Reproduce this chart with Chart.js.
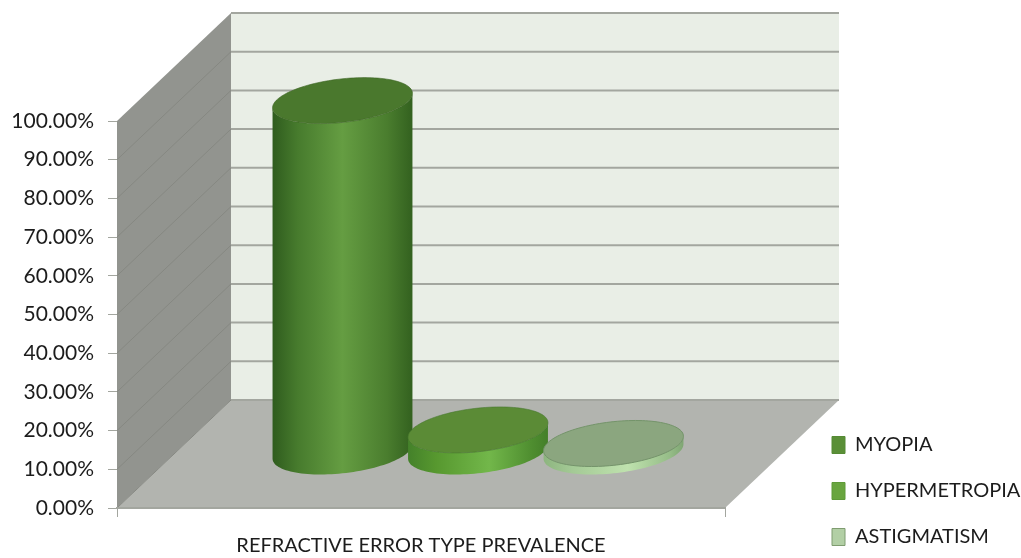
<!DOCTYPE html>
<html>
<head>
<meta charset="utf-8">
<title>Refractive error type prevalence</title>
<script src="https://cdn.jsdelivr.net/npm/chart.js@4"></script>
<style>
  html, body { margin: 0; padding: 0; background: #fff; }
  canvas { display: block; }
</style>
</head>
<body>
<canvas id="myChart" width="1021" height="558"></canvas>
<script>
const categories = ['REFRACTIVE ERROR TYPE PREVALENCE'];
const seriesNames = ['MYOPIA', 'HYPERMETROPIA', 'ASTIGMATISM'];
const myopia = [90.8];
const hypermetropia = [5.7];
const astigmatism = [2.2];

const FONT = 'Lato';
const TEXT = '#1c1c1c';

// oblique depth of the 3d box, in pixels
const DEPTH_X = 114;
const DEPTH_Y = 108;

// look of each cylinder: side gradient stops, cap colour, legend colour
const looks = [
  {
    legend: '#5a8f37',
    side: [[0, '#2f5c1e'], [0.18, '#477b2d'], [0.5, '#659d42'], [0.82, '#4a7d2e'], [1, '#33611f']],
    cap: '#4a782d',
    edge: 'rgba(60,100,35,0.6)'
  },
  {
    legend: '#69a53f',
    side: [[0, '#44812a'], [0.2, '#57982f'], [0.58, '#72b74a'], [0.88, '#4f8e30'], [1, '#447f29']],
    cap: '#5b8b36',
    edge: 'rgba(70,120,45,0.6)'
  },
  {
    legend: '#b2cfa5',
    side: [[0, '#8db57f'], [0.2, '#a3c995'], [0.6, '#bfe2ae'], [0.9, '#96bd88'], [1, '#7fa673']],
    cap: '#8ba67f',
    edge: '#74946a'
  }
];

function poly(ctx, pts) {
  ctx.beginPath();
  pts.forEach((p, i) => i ? ctx.lineTo(p[0], p[1]) : ctx.moveTo(p[0], p[1]));
  ctx.closePath();
}

// walls, floor and their grid lines, all hung on the chart's scales
const box3d = {
  id: 'box3d',
  beforeDraw(chart) {
    const ctx = chart.ctx;
    const y = chart.scales.y;
    const left = chart.chartArea.left;
    const right = chart.chartArea.right;
    const top = y.getPixelForValue(100);
    const bottom = y.getPixelForValue(0);

    ctx.save();
    // left wall
    ctx.fillStyle = '#92948f';
    poly(ctx, [[left, top], [left + DEPTH_X, top - DEPTH_Y], [left + DEPTH_X, bottom - DEPTH_Y], [left, bottom]]);
    ctx.fill();
    // back wall
    ctx.fillStyle = '#e9eee6';
    ctx.fillRect(left + DEPTH_X, top - DEPTH_Y, right - left, bottom - top);
    // floor
    ctx.fillStyle = '#b2b4af';
    poly(ctx, [[left, bottom], [right, bottom], [right + DEPTH_X, bottom - DEPTH_Y], [left + DEPTH_X, bottom - DEPTH_Y]]);
    ctx.fill();

    y.ticks.forEach((t) => {
      const py = y.getPixelForValue(t.value);
      if (t.value < 100) {
        ctx.strokeStyle = '#868882';
        ctx.lineWidth = 1;
        ctx.beginPath();
        ctx.moveTo(left, py);
        ctx.lineTo(left + DEPTH_X, py - DEPTH_Y);
        ctx.stroke();
      }
      ctx.strokeStyle = '#a3a69f';
      ctx.lineWidth = 2;
      ctx.beginPath();
      ctx.moveTo(left + DEPTH_X, py - DEPTH_Y);
      ctx.lineTo(right + DEPTH_X, py - DEPTH_Y);
      ctx.stroke();
    });
    ctx.restore();
  },
  // the flat bars are replaced by the cylinders below
  beforeDatasetDraw() {
    return false;
  },
  afterDatasetsDraw(chart) {
    chart.data.datasets.forEach((ds, i) => {
      const bar = chart.getDatasetMeta(i).data[0];
      drawCylinder(chart.ctx, bar, looks[i]);
    });
  },
  // the legend sits in the free space beside the box
  afterLayout(chart) {
    const legend = chart.legend;
    legend.left = 806;
    legend.right = 1021;
    legend.top = 409;
    legend.bottom = 640;
  }
};

function drawCylinder(ctx, bar, look) {
  const cx = bar.x + 57;
  const a = bar.width / 2;
  const b = 22;
  const c = 23;
  const yBase = bar.base - 56;
  const yTop = bar.y - 56;
  const t0 = Math.atan2(b, a);
  const ext = Math.sqrt(a * a + b * b);

  const at = (cy, t) => [cx + a * Math.cos(t) + b * Math.sin(t), cy - c * Math.sin(t)];
  const n = 60;

  // side surface: lower half of the base, then back along the lower half of the cap
  const pts = [];
  for (let k = 0; k <= n; k++) pts.push(at(yBase, t0 - Math.PI * k / n));
  for (let k = n; k >= 0; k--) pts.push(at(yTop, t0 - Math.PI * k / n));

  const grad = ctx.createLinearGradient(cx - ext, 0, cx + ext, 0);
  look.side.forEach((s) => grad.addColorStop(s[0], s[1]));

  ctx.save();
  poly(ctx, pts);
  ctx.fillStyle = grad;
  ctx.fill();

  const cap = [];
  for (let k = 0; k < n * 2; k++) cap.push(at(yTop, Math.PI * k / n));
  poly(ctx, cap);
  ctx.fillStyle = look.cap;
  ctx.fill();
  ctx.strokeStyle = look.edge;
  ctx.lineWidth = 1;
  ctx.stroke();
  ctx.restore();
}

const ctx = document.getElementById('myChart').getContext('2d');

const myChart = new Chart(ctx, {
  type: 'bar',
  plugins: [box3d],
  data: {
    labels: categories,
    datasets: [
      { label: seriesNames[0], data: myopia, backgroundColor: looks[0].legend, borderColor: '#558a34', borderWidth: 1 },
      { label: seriesNames[1], data: hypermetropia, backgroundColor: looks[1].legend, borderColor: '#5f9a39', borderWidth: 1 },
      { label: seriesNames[2], data: astigmatism, backgroundColor: looks[2].legend, borderColor: '#7f9c70', borderWidth: 1 }
    ]
  },
  options: {
    responsive: false,
    animation: false,
    barPercentage: 0.98,
    categoryPercentage: 0.6686,
    layout: { padding: { top: 121, right: 296, left: 0, bottom: 0 } },
    plugins: {
      tooltip: { enabled: false },
      title: { display: false },
      legend: {
        display: true,
        position: 'chartArea',
        align: 'start',
        labels: {
          boxWidth: 13,
          boxHeight: 17,
          padding: 26,
          color: TEXT,
          font: { family: FONT, size: 20 }
        }
      }
    },
    scales: {
      x: {
        afterFit(scale) { scale.height = 50; },
        border: { display: true, color: '#a3a69f', width: 2 },
        grid: { drawOnChartArea: false, drawTicks: true, tickLength: 9, color: '#a3a69f' },
        ticks: { color: TEXT, padding: 17, font: { family: FONT, size: 20 } }
      },
      y: {
        min: 0,
        max: 100,
        afterFit(scale) { scale.width = 117; },
        border: { display: false },
        grid: { drawOnChartArea: false, drawTicks: true, tickLength: 9, color: '#a3a69f' },
        ticks: {
          stepSize: 10,
          color: TEXT,
          padding: 14,
          font: { family: FONT, size: 21 },
          callback: (v) => v.toFixed(2) + '%'
        }
      }
    }
  }
});
</script>
</body>
</html>
